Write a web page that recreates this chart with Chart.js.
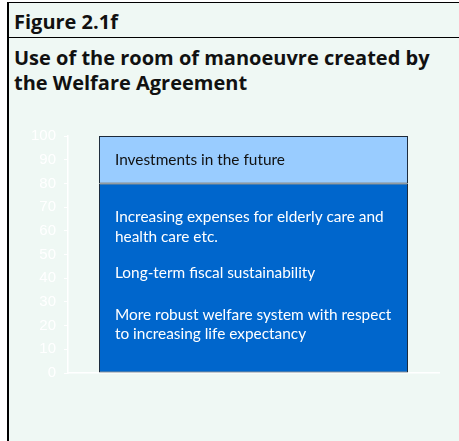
<!DOCTYPE html>
<html lang="en">
<head>
  <meta charset="UTF-8">
  <title>Figure 2.1f</title>
  <script src="https://cdn.jsdelivr.net/npm/chart.js"></script>
  <style>
    html, body {
      margin: 0;
      padding: 0;
      background: #ffffff;
    }
    .frame {
      position: absolute;
      left: 7px;
      top: 2px;
      width: 452px;
      height: 439px;
      border-left: 2px solid #000;
      border-top: 1px solid #000;
      background: #eff8f4;
      font-family: 'Open Sans', Lato, sans-serif;
    }
    .fig {
      font-weight: bold;
      font-size: 20px;
      line-height: 27px;
      color: #111;
      padding: 5px 0 0 5px;
      height: 29px;
      border-bottom: 1px solid #000;
    }
    .title {
      font-weight: bold;
      font-size: 20px;
      line-height: 25px;
      color: #111;
      padding: 7px 0 0 5px;
    }
    #wrap {
      position: absolute;
      left: 0;
      top: 98px;
      width: 450px;
      height: 339px;
    }
  </style>
</head>
<body>

<div class="frame">
  <div class="fig">Figure 2.1f</div>
  <div class="title">Use of the room of manoeuvre created by<br>the Welfare Agreement</div>
  <div id="wrap"><canvas id="chart"></canvas></div>
</div>

<script>
  const categories = [''];
  const expensesShare = [80];
  const investmentShare = [20];
  const yTicks = [0, 10, 20, 30, 40, 50, 60, 70, 80, 90, 100];

  // texts written inside the bar, with the value they sit at
  const investText = [['Investments in the future', 90]];
  const expenseText = [
    ['Increasing expenses for elderly care and', 66],
    ['health care etc.', 57.5],
    ['Long-term fiscal sustainability', 42],
    ['More robust welfare system with respect', 24.6],
    ['to increasing life expectancy', 16.5]
  ];

  const barText = {
    id: 'barText',
    afterDatasetsDraw(chart) {
      const ctx = chart.ctx;
      const y = chart.scales.y;
      const bar = chart.getDatasetMeta(0).data[0];
      const left = bar.x - bar.width / 2 + 16;
      ctx.save();
      ctx.font = '15.4px Lato, sans-serif';
      ctx.textBaseline = 'middle';
      ctx.fillStyle = '#111';
      investText.forEach(t => ctx.fillText(t[0], left, y.getPixelForValue(t[1])));
      ctx.fillStyle = '#ffffff';
      expenseText.forEach(t => ctx.fillText(t[0], left, y.getPixelForValue(t[1])));
      ctx.restore();
    }
  };

  const ctx = document.getElementById('chart').getContext('2d');
  new Chart(ctx, {
    type: 'bar',
    data: {
      labels: categories,
      datasets: [
        {
          label: 'Expenses',
          data: expensesShare,
          backgroundColor: '#0066cc',
          borderColor: '#1c2a3a',
          borderWidth: 1,
          borderSkipped: false
        },
        {
          label: 'Investments',
          data: investmentShare,
          backgroundColor: '#99ccff',
          borderColor: '#1c2a3a',
          borderWidth: 1,
          borderSkipped: false
        }
      ]
    },
    options: {
      responsive: true,
      maintainAspectRatio: false,
      animation: false,
      layout: { padding: { top: 35, right: 20, bottom: 59, left: 0 } },
      plugins: { legend: { display: false }, tooltip: { enabled: false } },
      datasets: { bar: { categoryPercentage: 1, barPercentage: 0.833 } },
      scales: {
        x: {
          stacked: true,
          grid: { display: false },
          ticks: { display: false },
          border: { color: '#ffffff', width: 1.5 }
        },
        y: {
          stacked: true,
          min: 0,
          max: 100,
          afterBuildTicks: s => { s.ticks = yTicks.map(v => ({ value: v })); },
          afterFit: s => { s.width = 59; },
          ticks: {
            color: '#ffffff',
            padding: 8,
            font: { family: 'Liberation Sans, Arial', size: 15 }
          },
          grid: { drawOnChartArea: false, tickLength: 4, color: '#ffffff' },
          border: { color: '#ffffff', width: 1.5 }
        }
      }
    },
    plugins: [barText]
  });
</script>

</body>
</html>
